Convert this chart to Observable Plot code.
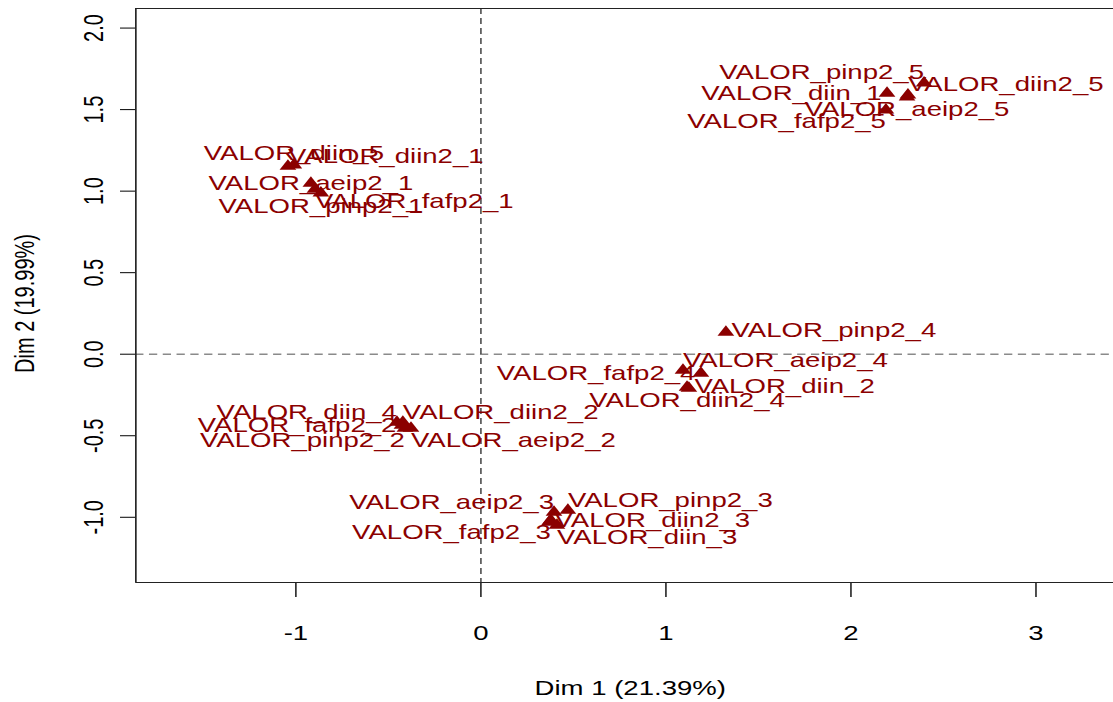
<!DOCTYPE html>
<html>
<head>
<meta charset="utf-8">
<script src="https://cdn.jsdelivr.net/npm/d3@7"></script>
<script src="https://cdn.jsdelivr.net/npm/@observablehq/plot@0.6"></script>
<style>
  html, body { margin: 0; padding: 0; background: #fff; overflow: hidden; }
  #chart svg { display: block; transform-origin: 0 0; }
</style>
</head>
<body>
<div id="chart"></div>
<script>
// Category coordinates on the first two dimensions
const labels = [
  "VALOR_diin_5", "VALOR_diin2_1", "VALOR_aeip2_1", "VALOR_fafp2_1", "VALOR_pinp2_1",
  "VALOR_pinp2_5", "VALOR_diin2_5", "VALOR_aeip2_5", "VALOR_diin_1", "VALOR_fafp2_5",
  "VALOR_pinp2_4", "VALOR_aeip2_4", "VALOR_fafp2_4", "VALOR_diin_2", "VALOR_diin2_4",
  "VALOR_diin_4", "VALOR_diin2_2", "VALOR_fafp2_2", "VALOR_pinp2_2", "VALOR_aeip2_2",
  "VALOR_aeip2_3", "VALOR_pinp2_3", "VALOR_fafp2_3", "VALOR_diin2_3", "VALOR_diin_3"
];
const dim1 = [
  -1.011, -1.043, -0.919, -0.897, -0.865,
   2.395,  2.308,  2.303,  2.195,  2.189,
   1.324,  1.092,  1.189,  1.124,  1.114,
  -0.454, -0.422, -0.427, -0.411, -0.378,
   0.395,  0.470,  0.378,  0.368,  0.411
];
const dim2 = [
   1.160,  1.153,  1.049,  1.012,  0.988,
   1.663,  1.589,  1.577,  1.601,  1.497,
   0.135, -0.098, -0.117, -0.209, -0.202,
  -0.417, -0.417, -0.436, -0.454, -0.454,
  -0.969, -0.957, -1.018, -1.031, -1.049
];
// Side of the point on which each label sits
const placement = [
  "N", "NE", "C", "SE", "S",
  "NW", "NE", "S", "W", "SW",
  "E", "NE", "W", "E", "S",
  "NW", "NE", "W", "SW", "SE",
  "NW", "NE", "SW", "E", "SE"
];

const xTicks = [-1, 0, 1, 2, 3];
const yTicks = [-1, -0.5, 0, 0.5, 1, 1.5, 2];
const yTickLabels = ["-1.0", "-0.5", "0.0", "0.5", "1.0", "1.5", "2.0"];
const xTitle = "Dim 1 (21.39%)";
const yTitle = "Dim 2 (19.99%)";

const rows = labels.map((label, i) => ({label, x: dim1[i], y: dim2[i], pos: placement[i]}));

// Label offsets for each placement
const offsets = {
  C:  {textAnchor: "middle", dx: 0,  dy: 0},
  N:  {textAnchor: "middle", dx: 0,  dy: -11},
  S:  {textAnchor: "middle", dx: 0,  dy: 13},
  E:  {textAnchor: "start",  dx: 4,  dy: -2},
  W:  {textAnchor: "end",    dx: -4, dy: 0},
  NE: {textAnchor: "start",  dx: 0,  dy: -10},
  NW: {textAnchor: "end",    dx: 0,  dy: -10},
  SE: {textAnchor: "start",  dx: 0,  dy: 12},
  SW: {textAnchor: "end",    dx: 0,  dy: 12}
};

const RED = "#8b0000";
const FONT = "'Liberation Sans', Arial, Helvetica, sans-serif";

// The device is drawn on a narrower canvas and widened to the window
const W = 1113, H = 702;
const baseWidth = 807;
const stretch = W / baseWidth;

const xDomain = [-1.865, 3.42];
const yDomain = [-1.40, 2.12];

const chart = Plot.plot({
  width: baseWidth,
  height: H,
  marginLeft: 98,
  marginRight: 0,
  marginTop: 8,
  marginBottom: 120,
  style: {fontFamily: FONT, fontSize: "20px", color: "#000", background: "#fff"},
  x: {domain: xDomain, ticks: xTicks, tickSize: 15, tickPadding: 28, tickFormat: d => String(d), label: null},
  y: {domain: yDomain, ticks: yTicks, tickSize: 11, tickFormat: () => "", label: null},
  marks: [
    // zero reference lines
    Plot.ruleY([0], {stroke: "#8a8a8a", strokeWidth: 1.5, strokeDasharray: "6,4"}),
    Plot.ruleX([0], {stroke: "#444", strokeWidth: 1.1, strokeDasharray: "6,4"}),
    // box (left, top, bottom)
    Plot.ruleX([xDomain[0]], {stroke: "#222", strokeWidth: 1.2}),
    Plot.ruleY(yDomain, {stroke: "#222", strokeWidth: 1.2}),
    // y tick labels, rotated
    Plot.text(yTicks, {
      y: d => d, text: (d, i) => yTickLabels[i], frameAnchor: "left",
      textAnchor: "middle", lineAnchor: "middle", dx: -30.5, rotate: -90, fontSize: 20, fill: "#000"
    }),
    // axis titles
    Plot.text([xTitle], {
      text: d => d, frameAnchor: "bottom", textAnchor: "middle", lineAnchor: "middle",
      dx: 4, dy: 106, fontSize: 20, fill: "#000"
    }),
    Plot.text([yTitle], {
      text: d => d, frameAnchor: "left", textAnchor: "middle", lineAnchor: "middle",
      dx: -80, dy: 8, rotate: -90, fontSize: 20, fill: "#000"
    }),
    // category points
    Plot.dot(rows, {x: "x", y: "y", symbol: "triangle", r: 4.5, fill: RED, stroke: "none"}),
    // category labels
    ...Object.entries(offsets).map(([key, o]) =>
      Plot.text(rows.filter(d => d.pos === key), {
        x: "x", y: "y", text: "label", fill: RED, fontSize: 20,
        textAnchor: o.textAnchor, lineAnchor: "middle", dx: o.dx, dy: o.dy
      })
    )
  ]
});

chart.style.transform = `scaleX(${stretch})`;
document.getElementById("chart").appendChild(chart);
</script>
</body>
</html>
